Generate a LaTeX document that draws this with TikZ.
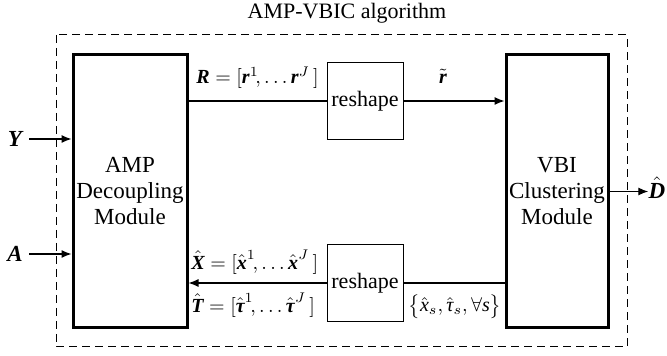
\documentclass[tikz,border=0pt]{standalone}
\usepackage{amsmath}
\usepackage{fontspec}
\setmainfont{Liberation Serif}
\usetikzlibrary{arrows.meta}
\newcommand{\bvec}[1]{\text{\bfseries\itshape #1}}
\newcommand{\ivec}[1]{\text{\itshape #1}}
\begin{document}
\begin{tikzpicture}[x=0.5pt,y=-0.5pt,
  font=\fontsize{11}{13}\selectfont,
  module/.style={draw,line width=1.5pt,minimum width=57pt,minimum height=136.5pt,inner sep=0pt,align=center,font=\fontsize{11.5}{13}\selectfont},
  modulev/.style={module,minimum width=51pt},
  reshapebox/.style={draw,line width=0.5pt,minimum width=38pt,minimum height=38.5pt,inner sep=0pt},
  conn/.style={line width=0.6pt},
  arr/.style={conn,-{Latex[length=5pt,width=4pt]}},
  lbl/.style={inner sep=0pt},
  mlbl/.style={inner sep=0pt,font=\fontsize{10}{12}\selectfont},
  iolbl/.style={inner sep=0pt,font=\fontsize{11.5}{13}\selectfont}]
\useasboundingbox (0,0) rectangle (667,356);
\draw[line width=0.5pt,dash pattern=on 4pt off 2.5pt] (56,35) rectangle (627,347);
\node[lbl] (title) at (347,13) {AMP-VBIC algorithm};
\node[module] (L) at (130,191.5) {AMP\\Decoupling\\Module};
\node[modulev] (V) at (557,191.5) {VBI\\Clustering\\Module};
\node[reshapebox] (R1) at (365,101) {reshape};
\node[reshapebox] (R2) at (365,283) {reshape};
% upper path
\draw[conn] (L.east |- R1.west) -- (R1.west);
\draw[arr] (R1.east) -- (V.west |- R1.east);
% lower path
\draw[conn] (V.west |- R2.east) -- (R2.east);
\draw[arr] (R2.west) -- (L.east |- R2.west);
% labels
\node[mlbl,anchor=west] (lR) at (196,78) {$\bvec{R}=[\bvec{r}^{1}\!,\ldots\bvec{r}^{J}\,]$};
\node[mlbl] (lr) at (443,76) {$\tilde{\bvec{r}}$};
\node[mlbl,anchor=west] (lX) at (191,262) {$\hat{\bvec{X}}=[\hat{\bvec{x}}^{1}\!,\ldots\hat{\bvec{x}}^{J}\,]$};
\node[mlbl,anchor=west] (lT) at (191,305) {$\hat{\bvec{T}}=[\hat{\bvec{τ}}^{1}\!,\ldots\hat{\bvec{τ}}^{J}\,]$};
\node[mlbl] (ls) at (455,307) {$\bigl\{\hat{\ivec{x}}_{s},\hat{\ivec{τ}}_{s},\forall \ivec{s}\bigr\}$};
% inputs and output
\node[iolbl] (Y) at (15,139) {$\bvec{Y}$};
\node[iolbl] (A) at (15,254) {$\bvec{A}$};
\draw[arr] (29,139) coordinate (yst) -- (L.west |- yst);
\draw[arr] (29,254) coordinate (ast) -- (L.west |- ast);
\node[iolbl] (D) at (657,188) {$\hat{\bvec{D}}$};
\draw[arr] (V.east) -- (D.west |- V.east);
\end{tikzpicture}
\end{document}
